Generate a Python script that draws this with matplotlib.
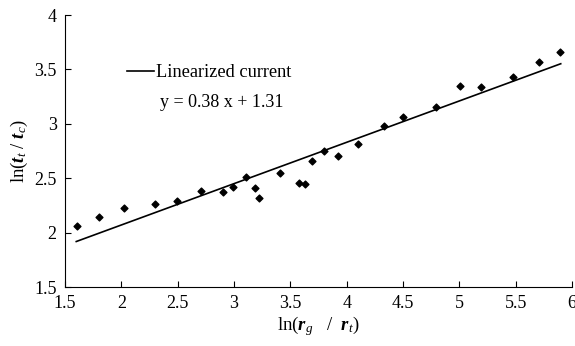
import matplotlib
matplotlib.use('Agg')
import matplotlib.pyplot as plt

plt.rcParams['font.family'] = 'Liberation Serif'
plt.rcParams['mathtext.fontset'] = 'custom'
plt.rcParams['mathtext.rm'] = 'Liberation Serif'
plt.rcParams['mathtext.it'] = 'Liberation Serif:italic'
plt.rcParams['mathtext.bf'] = 'Liberation Serif:bold:italic'

# measured points
ln_r = [1.61, 1.80, 2.02, 2.30, 2.49, 2.71, 2.90, 2.99, 3.11, 3.19, 3.22, 3.41,
        3.58, 3.63, 3.69, 3.80, 3.92, 4.10, 4.33, 4.50, 4.79, 5.01, 5.19, 5.48,
        5.71, 5.89]
ln_t = [2.06, 2.14, 2.23, 2.26, 2.29, 2.38, 2.37, 2.42, 2.51, 2.41, 2.32, 2.55,
        2.46, 2.45, 2.66, 2.75, 2.70, 2.81, 2.98, 3.06, 3.15, 3.35, 3.34, 3.43,
        3.57, 3.66]

# fitted line y = 0.38 x + 1.31, end points
fit_x = [1.6, 5.9]
fit_y = [1.918, 3.552]

xticks = [1.5, 2, 2.5, 3, 3.5, 4, 4.5, 5, 5.5, 6]
yticks = [1.5, 2, 2.5, 3, 3.5, 4]

fig = plt.figure(figsize=(5.75, 3.46), dpi=100)
ax = fig.add_axes([65/575, 1 - 287/346, 507/575, 272/346])

ax.plot(fit_x, fit_y, color='black', lw=1.2, label='Linearized current')
ax.scatter(ln_r, ln_t, marker='D', s=12, color='black', zorder=3)

ax.set_xlim(1.5, 6)
ax.set_ylim(1.5, 4)
ax.set_xticks(xticks)
ax.set_xticklabels(['1.5', '2', '2.5', '3', '3.5', '4', '4.5', '5', '5.5', '6'])
ax.set_yticks(yticks)
ax.set_yticklabels(['1.5', '2', '2.5', '3', '3.5', '4'])
ax.tick_params(direction='in', length=4, labelsize=13, pad=6)
ax.spines['top'].set_visible(False)
ax.spines['right'].set_visible(False)

ax.set_xlabel(r'ln($\mathbf{r}_{g}$   /  $\mathbf{r}_{t}$)', fontsize=13.5, labelpad=1)
ax.set_ylabel(r'ln($\mathbf{t}_{t}$ / $\mathbf{t}_{c}$)', fontsize=13.5, labelpad=3)

ax.legend(frameon=False, loc='center left', bbox_to_anchor=(0.09, 0.787),
          fontsize=13.2, handlelength=1.45, handletextpad=0.15)
ax.text(0.31, 0.68, 'y = 0.38 x + 1.31', transform=ax.transAxes,
        ha='center', va='center', fontsize=13)

fig.savefig('out.png', dpi=100)
